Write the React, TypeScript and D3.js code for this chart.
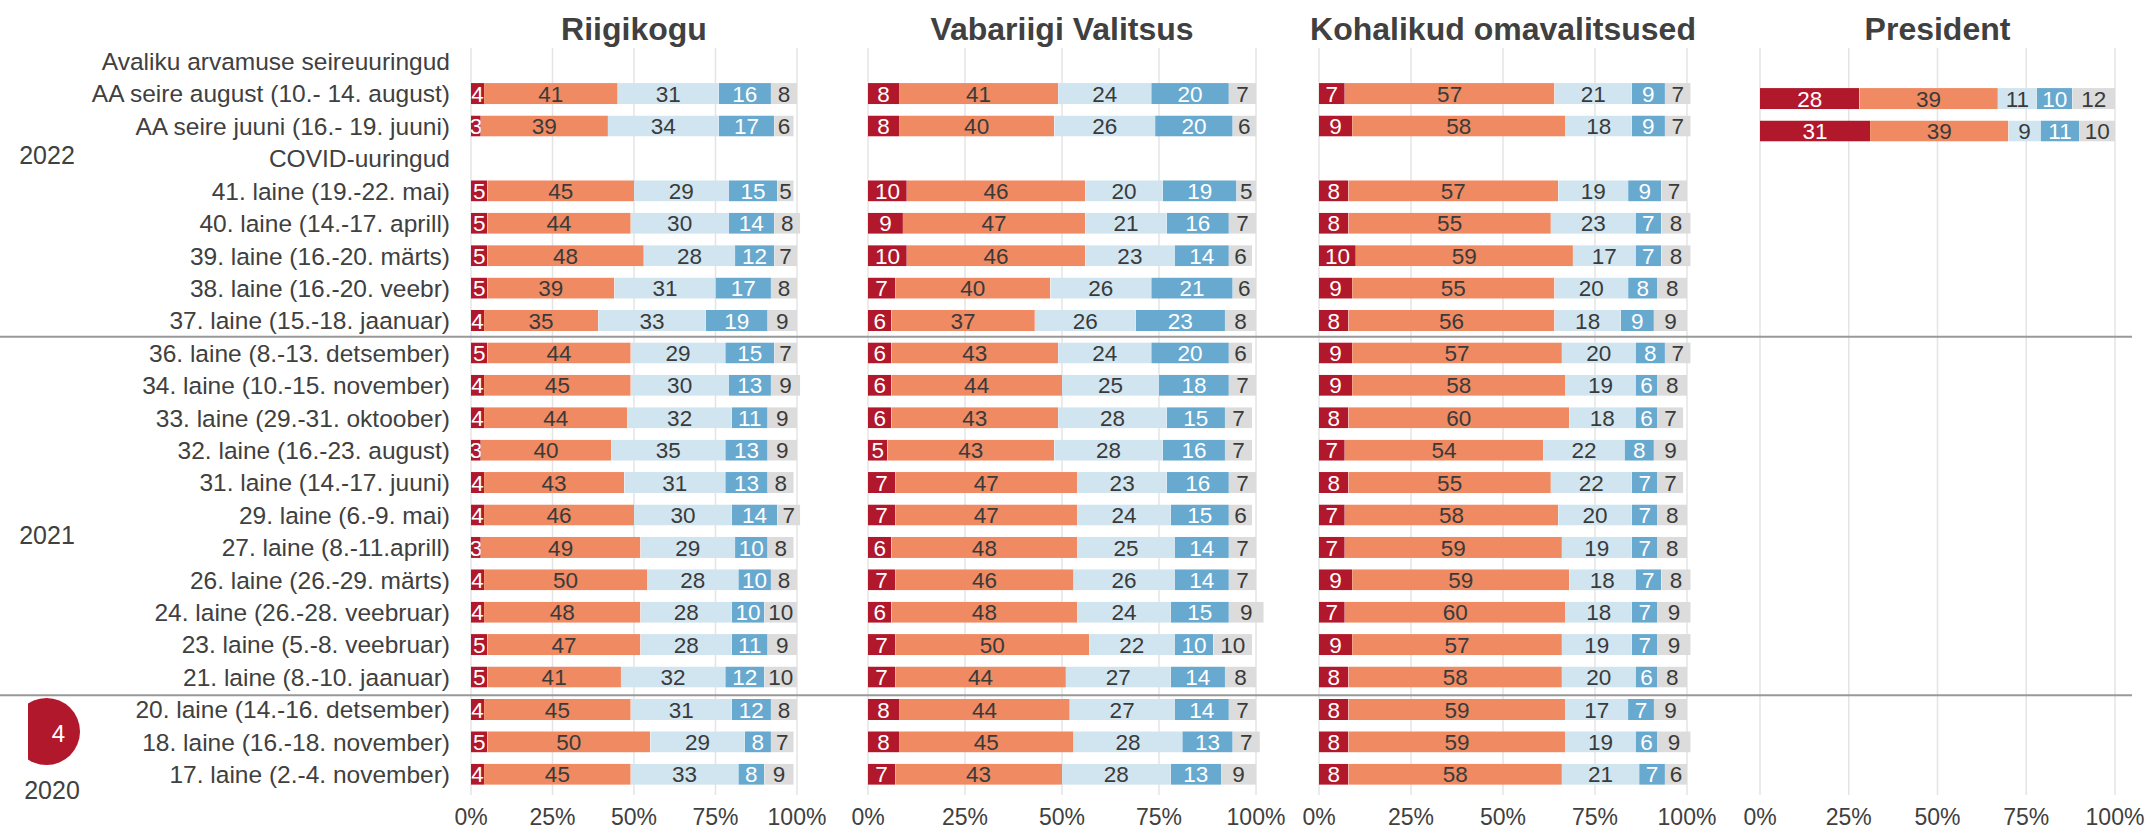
import React from 'react';
import * as d3 from 'd3';

// rows on the left, top to bottom (two of them are group headers without bars)
const rowLabels = [
  'Avaliku arvamuse seireuuringud',
  'AA seire august (10.- 14. august)',
  'AA seire juuni (16.- 19. juuni)',
  'COVID-uuringud',
  '41. laine (19.-22. mai)',
  '40. laine (14.-17. aprill)',
  '39. laine (16.-20. märts)',
  '38. laine (16.-20. veebr)',
  '37. laine (15.-18. jaanuar)',
  '36. laine (8.-13. detsember)',
  '34. laine (10.-15. november)',
  '33. laine (29.-31. oktoober)',
  '32. laine (16.-23. august)',
  '31. laine (14.-17. juuni)',
  '29. laine (6.-9. mai)',
  '27. laine (8.-11.aprill)',
  '26. laine (26.-29. märts)',
  '24. laine (26.-28. veebruar)',
  '23. laine (5.-8. veebruar)',
  '21. laine (8.-10. jaanuar)',
  '20. laine (14.-16. detsember)',
  '18. laine (16.-18. november)',
  '17. laine (2.-4. november)',
];
const headerRows = ['Avaliku arvamuse seireuuringud', 'COVID-uuringud'];
const yearLabels = ['2022', '2021', '2020'];
const tickValues = [0, 25, 50, 75, 100];

// five answer shares per survey, same order as the non-header rows
const riigikogu = [
  [4, 41, 31, 16, 8], [3, 39, 34, 17, 6],
  [5, 45, 29, 15, 5], [5, 44, 30, 14, 8], [5, 48, 28, 12, 7], [5, 39, 31, 17, 8], [4, 35, 33, 19, 9],
  [5, 44, 29, 15, 7], [4, 45, 30, 13, 9], [4, 44, 32, 11, 9], [3, 40, 35, 13, 9], [4, 43, 31, 13, 8],
  [4, 46, 30, 14, 7], [3, 49, 29, 10, 8], [4, 50, 28, 10, 8], [4, 48, 28, 10, 10], [5, 47, 28, 11, 9],
  [5, 41, 32, 12, 10], [4, 45, 31, 12, 8], [5, 50, 29, 8, 7], [4, 45, 33, 8, 9],
];
const valitsus = [
  [8, 41, 24, 20, 7], [8, 40, 26, 20, 6],
  [10, 46, 20, 19, 5], [9, 47, 21, 16, 7], [10, 46, 23, 14, 6], [7, 40, 26, 21, 6], [6, 37, 26, 23, 8],
  [6, 43, 24, 20, 6], [6, 44, 25, 18, 7], [6, 43, 28, 15, 7], [5, 43, 28, 16, 7], [7, 47, 23, 16, 7],
  [7, 47, 24, 15, 6], [6, 48, 25, 14, 7], [7, 46, 26, 14, 7], [6, 48, 24, 15, 9], [7, 50, 22, 10, 10],
  [7, 44, 27, 14, 8], [8, 44, 27, 14, 7], [8, 45, 28, 13, 7], [7, 43, 28, 13, 9],
];
const omavalitsused = [
  [7, 57, 21, 9, 7], [9, 58, 18, 9, 7],
  [8, 57, 19, 9, 7], [8, 55, 23, 7, 8], [10, 59, 17, 7, 8], [9, 55, 20, 8, 8], [8, 56, 18, 9, 9],
  [9, 57, 20, 8, 7], [9, 58, 19, 6, 8], [8, 60, 18, 6, 7], [7, 54, 22, 8, 9], [8, 55, 22, 7, 7],
  [7, 58, 20, 7, 8], [7, 59, 19, 7, 8], [9, 59, 18, 7, 8], [7, 60, 18, 7, 9], [9, 57, 19, 7, 9],
  [8, 58, 20, 6, 8], [8, 59, 17, 7, 9], [8, 59, 19, 6, 9], [8, 58, 21, 7, 6],
];
const president = [
  [28, 39, 11, 10, 12], [31, 39, 9, 11, 10],
];

const segColors = ['#b2182b', '#ef8a62', '#d1e5f0', '#67a9cf', '#dcdcdc'];
const segText = ['#ffffff', '#3a3a3a', '#3a3a3a', '#ffffff', '#3a3a3a'];

const W = 2149;
const H = 832;
const textColor = '#404040';

export default function App() {
  const surveys = rowLabels.filter(r => !headerRows.includes(r));
  const y = d3.scaleBand<string>()
    .domain(rowLabels)
    .range([45, 790.5])
    .paddingInner(0.35)
    .paddingOuter(0.175);
  const bh = y.bandwidth();

  const panels = [
    { title: 'Riigikogu', values: riigikogu, range: [471, 797], dy: 0 },
    { title: 'Vabariigi Valitsus', values: valitsus, range: [868, 1256], dy: 0 },
    { title: 'Kohalikud omavalitsused', values: omavalitsused, range: [1319, 1687], dy: 0 },
    { title: 'President', values: president, range: [1760, 2115], dy: 5 },
  ];

  const stack = d3.stack<number[], number>()
    .keys([0, 1, 2, 3, 4])
    .value((d, k) => d[k]);

  const sepY = (a: string, b: string) => ((y(a) ?? 0) + bh + (y(b) ?? 0)) / 2;
  const separators = [
    sepY(rowLabels[8], rowLabels[9]),
    sepY(rowLabels[19], rowLabels[20]) + 2,
  ];
  const yearY = [155, 535, 790];

  return (
    <svg width={W} height={H} style={{ display: 'block', fontFamily: '"Liberation Sans", Arial, sans-serif' }}>
      <style>{'body{margin:0;overflow:hidden}'}</style>
      <rect width={W} height={H} fill="#fff" />
      <defs>
        <clipPath id="cut-circle">
          <rect x={28} y={690} width={70} height={90} />
        </clipPath>
      </defs>

      {panels.map((p, pi) => {
        const x = d3.scaleLinear().domain([0, 100]).range(p.range);
        const series = stack(p.values);
        const cx = (p.range[0] + p.range[1]) / 2;
        return (
          <g key={p.title}>
            <text x={cx} y={40} textAnchor="middle" fontSize={32} fontWeight="bold" fill={textColor}>
              {p.title}
            </text>
            {tickValues.map(t => (
              <g key={t}>
                <line x1={x(t)} x2={x(t)} y1={48} y2={795} stroke="#e4e4e4" strokeWidth={1.5} />
                <text x={x(t)} y={825} textAnchor="middle" fontSize={23} fill={textColor}>{t}%</text>
              </g>
            ))}
            <g transform={`translate(0,${p.dy})`}>
              {series.map((s, si) =>
                s.map((d, ri) => {
                  const x0 = x(d[0]);
                  const w = x(d[1]) - x0;
                  const yy = y(surveys[ri]) ?? 0;
                  return (
                    <svg key={`${pi}-${si}-${ri}`} x={x0} y={yy} width={w} height={bh} overflow="hidden">
                      <rect width={w} height={bh} fill={segColors[si]} />
                      <text x={w / 2} y={bh / 2} dy="0.36em" textAnchor="middle" fontSize={22.5} fill={segText[si]}>
                        {p.values[ri][si]}
                      </text>
                    </svg>
                  );
                })
              )}
            </g>
          </g>
        );
      })}

      {rowLabels.map(r => (
        <text key={r} x={450} y={(y(r) ?? 0) + bh / 2} dy="0.36em" textAnchor="end" fontSize={24.5} fill={textColor}>
          {r}
        </text>
      ))}

      {separators.map((s, i) => (
        <line key={i} x1={0} x2={2132} y1={s} y2={s} stroke="#999" strokeWidth={2} />
      ))}

      {yearLabels.map((t, i) => (
        <text key={t} x={i === 2 ? 52 : 47} y={yearY[i]} dy="0.36em" textAnchor="middle" fontSize={25} fill={textColor}>
          {t}
        </text>
      ))}

      <circle cx={46.5} cy={731.5} r={33.5} fill="#b2182b" clipPath="url(#cut-circle)" />
      <text x={58.5} y={733} dy="0.36em" textAnchor="middle" fontSize={24} fill="#fff">4</text>
    </svg>
  );
}
